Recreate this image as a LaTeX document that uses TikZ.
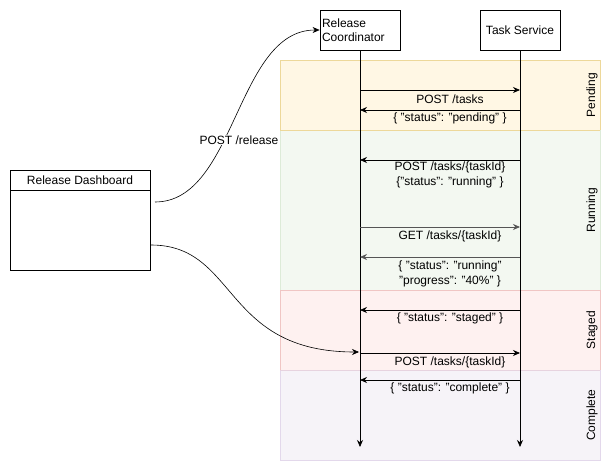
\documentclass[tikz,border=0pt]{standalone}
\usepackage{fontspec}
\setmainfont{Liberation Sans}
\usetikzlibrary{arrows.meta}
\definecolor{penfill}{HTML}{FFF7E4}
\definecolor{pendraw}{HTML}{EDD89A}
\definecolor{runfill}{HTML}{F3F8F1}
\definecolor{rundraw}{HTML}{DDEBD8}
\definecolor{stgfill}{HTML}{FEF1F0}
\definecolor{stgdraw}{HTML}{F0C6C4}
\definecolor{cmpfill}{HTML}{F6F3F8}
\definecolor{cmpdraw}{HTML}{E3D8EB}
\definecolor{msggray}{HTML}{555555}
\begin{document}
\begin{tikzpicture}[x=1pt,y=-1pt,
  every node/.style={font=\fontsize{12}{13.5}\selectfont, inner sep=0pt},
  actor/.style={draw, line width=0.8pt, minimum width=80pt, minimum height=40pt},
  band/.style={line width=0.8pt},
  lanelabel/.style={rotate=90},
  msg/.style={line width=0.8pt, -{Stealth[length=7pt,width=6pt]}},
  msglabel/.style={align=center, font=\fontsize{12}{15}\selectfont},
  life/.style={line width=0.8pt, -{Stealth[length=7pt,width=6pt]}},
  curve/.style={line width=0.6pt, -{Stealth[length=7pt,width=6pt]}}
]
\useasboundingbox (0,0) rectangle (611,471);
% bands
\path[band, fill=penfill, draw=pendraw] (280,60) rectangle (600,130);
\path[band, fill=runfill, draw=rundraw] (280,130) rectangle (600,290);
\path[band, fill=stgfill, draw=stgdraw] (280,290) rectangle (600,370);
\path[band, fill=cmpfill, draw=cmpdraw] (280,370) rectangle (600,460);
\draw[pendraw, line width=0.8pt] (280,130) -- (600,130);
\draw[stgdraw, line width=0.8pt] (280,290) -- (600,290);
\draw[cmpdraw!70!stgdraw, line width=0.8pt] (280,370) -- (600,370);
\node[lanelabel] (lpen) at (592,95) {Pending};
\node[lanelabel] (lrun) at (592,210) {Running};
\node[lanelabel] (lstg) at (592,330) {Staged};
\node[lanelabel] (lcmp) at (592,415) {Complete};
% actors
\node[actor, align=left, text width=76pt] (rc) at (360,30) {Release\\Coordinator};
\node[actor] (ts) at (520,30) {Task Service};
\coordinate (rcend) at (360,447);
\coordinate (tsend) at (520,447);
\draw[life] (rc.south) -- (rcend);
\draw[life] (ts.south) -- (tsend);
% dashboard
\node[draw, line width=0.8pt, minimum width=140pt, minimum height=20pt] (dh) at (80,180) {Release Dashboard};
\node[draw, line width=0.8pt, minimum width=140pt, minimum height=80pt, anchor=north] (db) at (dh.south) {};
% message coordinates
\foreach \n/\y in {a/90,b/110,c/160,d/227,e/257,f/310,g/353,h/380}{
  \coordinate (rc\n) at (360,\y);
  \coordinate (ts\n) at (520,\y);
}
\draw[msg] (rca) -- (tsa);
\node[msglabel] (la) at (450,99) {POST /tasks};
\draw[msg] (tsb) -- (rcb);
\node[msglabel] (lb) at (450,118) {\{ "status": "pending" \}};
\draw[msg] (tsc) -- (rcc);
\node[msglabel, anchor=north] (lc) at (450,162) {POST /tasks/\{taskId\}\\\{"status": "running" \}};
\draw[msg, msggray] (rcd) -- (tsd);
\node[msglabel] (ld) at (450,236) {GET /tasks/\{taskId\}};
\draw[msg, msggray] (tse) -- (rce);
\node[msglabel, anchor=north] (le) at (450,261) {\{ "status": "running"\\"progress": "40\%" \}};
\draw[msg] (tsf) -- (rcf);
\node[msglabel] (lf) at (450,318) {\{ "status": "staged" \}};
\draw[msg] (rcg) -- (tsg);
\node[msglabel] (lg) at (450,362) {POST /tasks/\{taskId\}};
\draw[msg] (tsh) -- (rch);
\node[msglabel] (lh) at (450,388) {\{ "status": "complete" \}};
% curves
\coordinate (c1s) at (155,202);
\coordinate (c2s) at (151,245);
\coordinate (c2e) at (359,352);
\draw[curve] (c1s) .. controls (236,202) and (236,30) .. (rc.west);
\node[fill=white, inner sep=1pt] (lrel) at (239,140) {POST /release};
\draw[curve] (c2s) .. controls (238,245) and (222,352) .. (c2e);
\end{tikzpicture}
\end{document}
